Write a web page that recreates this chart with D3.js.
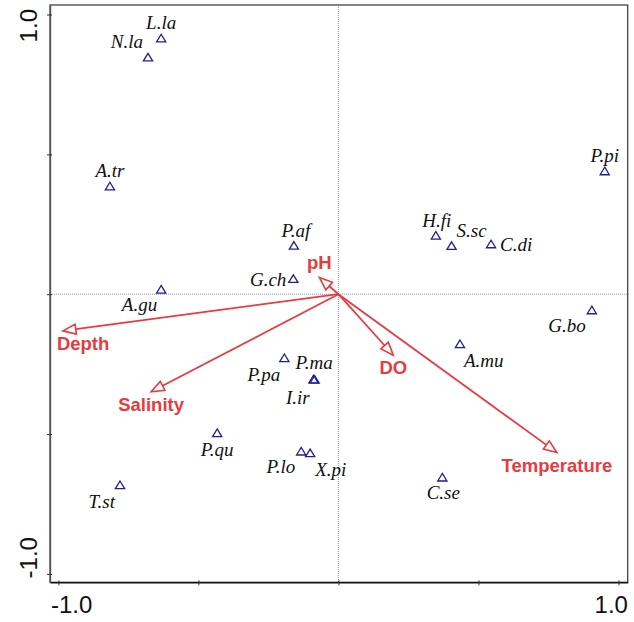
<!DOCTYPE html>
<html>
<head>
<meta charset="utf-8">
<script src="https://cdn.jsdelivr.net/npm/d3@7"></script>
<style>
body { margin: 0; background: #fff; }
svg { display: block; }
</style>
</head>
<body>
<svg width="634" height="622"></svg>
<script>
// species scores (RDA biplot)
var species = ["L.la", "N.la", "A.tr", "P.af", "G.ch", "A.gu", "P.pi", "H.fi", "S.sc", "C.di", "G.bo",
    "P.pa", "P.ma", "I.ir", "P.qu", "P.lo", "X.pi", "T.st", "A.mu", "C.se"];
var speciesX = [-0.633, -0.680, -0.816, -0.159, -0.161, -0.633, 0.951, 0.348, 0.404, 0.545, 0.905,
    -0.193, -0.089, -0.085, -0.433, -0.133, -0.101, -0.780, 0.434, 0.371];
var speciesY = [0.915, 0.847, 0.386, 0.174, 0.055, 0.017, 0.440, 0.210, 0.173, 0.179, -0.057,
    -0.228, -0.304, -0.305, -0.496, -0.562, -0.568, -0.682, -0.178, -0.655];

// environmental variables
var envVars = ["pH", "Depth", "Salinity", "DO", "Temperature"];
var envX = [-0.068, -0.984, -0.669, 0.196, 0.780];
var envY = [0.060, -0.131, -0.349, -0.218, -0.566];

var tickValues = [-1, -0.5, 0, 0.5, 1];
var tickLabels = ["-1.0", "", "", "", "1.0"];

// where each species label sits: [anchor, dx, dy]
var labelPlace = {
    "L.la": ["middle", 0, -9], "N.la": ["end", -5, -9], "A.tr": ["middle", 0, -9],
    "P.af": ["middle", 2, -9], "G.ch": ["end", -7, 7], "A.gu": ["end", -4, 22],
    "P.pi": ["middle", 0, -9], "H.fi": ["middle", 1, -8], "S.sc": ["start", 5, -9],
    "C.di": ["start", 9, 7], "G.bo": ["end", -6, 22], "P.pa": ["end", -4, 23],
    "P.ma": ["start", -18, -10], "I.ir": ["end", -5, 24], "P.qu": ["middle", 0, 23],
    "P.lo": ["end", -6, 22], "X.pi": ["start", 5, 23], "T.st": ["end", -5, 23],
    "A.mu": ["start", 4, 23], "C.se": ["middle", 1, 22]
};

var red = "#e63b3f";
var navy = "#1f1f96";

function draw() {
    var svg = d3.select("svg");
    var left = 50, right = 627.7, top = 5, bottom = 582.3;

    var x = d3.scaleLinear().domain([-1.03, 1.033]).range([left, right]);
    var y = d3.scaleLinear().domain([-1.03, 1.034]).range([bottom, top]);

    // zero lines
    svg.append("line")
        .attr("x1", x(0)).attr("x2", x(0)).attr("y1", top).attr("y2", bottom)
        .attr("stroke", "#9a9a9a").attr("stroke-width", 1).attr("stroke-dasharray", "1,1");
    svg.append("line")
        .attr("x1", left).attr("x2", right).attr("y1", y(0)).attr("y2", y(0))
        .attr("stroke", "#9a9a9a").attr("stroke-width", 1).attr("stroke-dasharray", "1,1");

    // frame
    svg.append("rect")
        .attr("x", left).attr("y", top).attr("width", right - left).attr("height", bottom - top)
        .attr("fill", "none").attr("stroke", "#444").attr("stroke-width", 1.3);

    // axes
    var xAxis = d3.axisBottom(x).tickValues(tickValues).tickSizeInner(3).tickSizeOuter(0)
        .tickFormat(function (d, i) { return tickLabels[i]; });
    var gx = svg.append("g").attr("transform", "translate(0," + bottom + ")").call(xAxis);
    gx.select(".domain").attr("stroke", "#111").attr("stroke-width", 1.4);
    gx.selectAll(".tick line").attr("y1", -2).attr("stroke", "#333");
    gx.selectAll(".tick text")
        .attr("y", 31).attr("dy", null)
        .attr("x", function (d) { return d < 0 ? -8 : 9; })
        .attr("text-anchor", function (d) { return d < 0 ? "start" : "end"; })
        .attr("fill", "#111")
        .style("font-family", "Liberation Sans, Arial, sans-serif").style("font-size", "24px");

    var yAxis = d3.axisLeft(y).tickValues(tickValues).tickSizeInner(3).tickSizeOuter(0)
        .tickFormat(function (d, i) { return tickLabels[i]; });
    var gy = svg.append("g").attr("transform", "translate(" + left + ",0)").call(yAxis);
    gy.select(".domain").attr("stroke", "#555").attr("stroke-width", 1.4);
    gy.selectAll(".tick line").attr("x1", 2).attr("stroke", "#333");
    gy.selectAll(".tick text")
        .attr("x", null).attr("dy", null)
        .attr("transform", function (d) { return "translate(-13," + (d < 0 ? 4 : -6) + ") rotate(-90)"; })
        .attr("text-anchor", function (d) { return d < 0 ? "start" : "end"; })
        .attr("fill", "#111")
        .style("font-family", "Liberation Sans, Arial, sans-serif").style("font-size", "24px");

    // environmental arrows
    var env = envVars.map(function (name, i) { return { name: name, x: envX[i], y: envY[i] }; });
    var headLen = 13, headHalf = 5;
    var arrows = svg.selectAll(".env").data(env).enter().append("g").attr("class", "env");
    arrows.each(function (d) {
        var g = d3.select(this);
        var x0 = x(0), y0 = y(0), x1 = x(d.x), y1 = y(d.y);
        var len = Math.sqrt((x1 - x0) * (x1 - x0) + (y1 - y0) * (y1 - y0));
        var ux = (x1 - x0) / len, uy = (y1 - y0) / len;
        var bx = x1 - ux * headLen, by = y1 - uy * headLen;
        g.append("line")
            .attr("x1", x0).attr("y1", y0).attr("x2", bx).attr("y2", by)
            .attr("stroke", red).attr("stroke-width", 1.8);
        g.append("path")
            .attr("d", "M" + x1 + "," + y1 +
                "L" + (bx - uy * headHalf) + "," + (by + ux * headHalf) +
                "L" + (bx + uy * headHalf) + "," + (by - ux * headHalf) + "Z")
            .attr("fill", "#fff").attr("stroke", red).attr("stroke-width", 1.6)
            .attr("stroke-linejoin", "miter");
        g.append("text")
            .attr("x", x1 + (d.name === "Depth" ? -6 : 0))
            .attr("y", y1 + (d.y > 0 ? -8 : 19))
            .attr("text-anchor", d.name === "Depth" ? "start" : "middle")
            .attr("fill", red)
            .style("font-family", "Liberation Sans, Arial, sans-serif")
            .style("font-size", "18.5px").style("font-weight", "bold")
            .text(d.name);
    });

    // species
    var sp = species.map(function (name, i) { return { name: name, x: speciesX[i], y: speciesY[i] }; });
    svg.selectAll(".sp").data(sp).enter().append("path")
        .attr("class", "sp")
        .attr("d", "M0,-4L4.6,3.6L-4.6,3.6Z")
        .attr("transform", function (d) { return "translate(" + x(d.x) + "," + y(d.y) + ")"; })
        .attr("fill", "none").attr("stroke", navy).attr("stroke-width", 1.3);

    svg.selectAll(".splab").data(sp).enter().append("text")
        .attr("class", "splab")
        .attr("x", function (d) { return x(d.x) + labelPlace[d.name][1]; })
        .attr("y", function (d) { return y(d.y) + labelPlace[d.name][2]; })
        .attr("text-anchor", function (d) { return labelPlace[d.name][0]; })
        .attr("fill", "#111")
        .style("font-family", "Liberation Serif, Times New Roman, serif")
        .style("font-style", "italic").style("font-size", "19px")
        .text(function (d) { return d.name; });
}

draw();
</script>
</body>
</html>
